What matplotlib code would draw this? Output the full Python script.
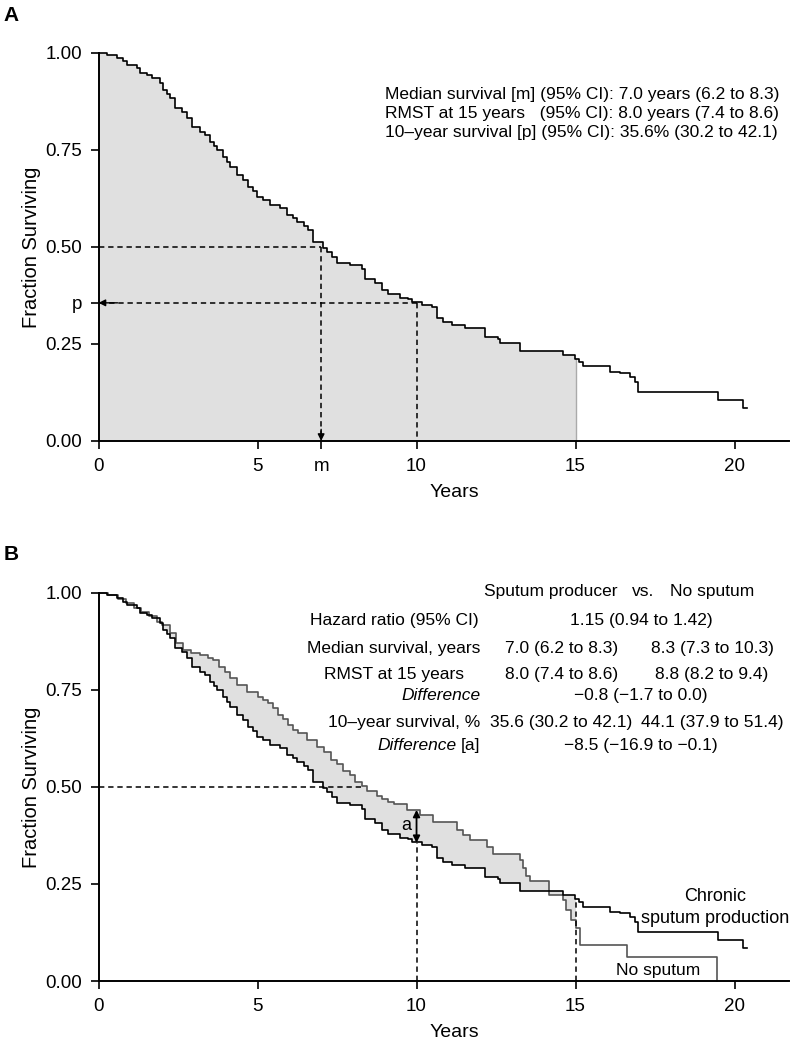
import numpy as np
import matplotlib.pyplot as plt

plt.rcParams['font.family'] = ['Liberation Sans', 'DejaVu Sans']

# Kaplan-Meier steps: time (years) and survival after each step
t_sputum = [0, 0.26, 0.57, 0.78, 0.89, 1.2, 1.3, 1.52, 1.67, 1.93, 2.04, 2.15, 2.25, 2.4, 2.62,
            2.77, 2.93, 3.19, 3.35, 3.5, 3.62, 3.72, 3.92, 4.03, 4.13, 4.35, 4.55, 4.71, 4.85,
            4.97, 5.18, 5.39, 5.71, 5.92, 6.1, 6.23, 6.45, 6.6, 6.75, 7.07, 7.2, 7.33, 7.49,
            7.91, 8.28, 8.38, 8.7, 8.9, 9.11, 9.48, 9.74, 9.85, 10.16, 10.48, 10.64, 10.84,
            11.1, 11.53, 12.15, 12.57, 12.63, 13.25, 14.62, 14.98, 15.1, 15.25, 16.08, 16.4,
            16.71, 16.87, 16.97, 19.49, 20.28, 20.4]
s_sputum = [1.0, 0.995, 0.986, 0.978, 0.969, 0.96, 0.948, 0.943, 0.935, 0.922, 0.905, 0.895,
            0.883, 0.857, 0.849, 0.832, 0.81, 0.797, 0.789, 0.771, 0.76, 0.75, 0.733, 0.72,
            0.707, 0.686, 0.673, 0.655, 0.645, 0.63, 0.621, 0.608, 0.6, 0.582, 0.574, 0.565,
            0.555, 0.544, 0.514, 0.497, 0.488, 0.475, 0.458, 0.454, 0.443, 0.417, 0.408, 0.389,
            0.379, 0.368, 0.365, 0.357, 0.351, 0.345, 0.316, 0.307, 0.299, 0.29, 0.269, 0.262,
            0.252, 0.232, 0.222, 0.211, 0.204, 0.192, 0.179, 0.174, 0.166, 0.153, 0.127, 0.106,
            0.085, 0.085]

t_nosp = [0, 0.3, 0.6, 0.85, 1.1, 1.35, 1.6, 1.85, 2.0, 2.25, 2.45, 2.67, 2.9, 3.19, 3.45,
          3.61, 3.8, 3.98, 4.15, 4.35, 4.66, 5.03, 5.18, 5.34, 5.5, 5.65, 5.8, 5.97, 6.1, 6.28,
          6.55, 6.86, 7.1, 7.3, 7.5, 7.7, 7.9, 8.07, 8.3, 8.45, 8.75, 8.9, 9.1, 9.3, 9.69, 10.1,
          10.53, 11.26, 11.45, 11.68, 12.21, 12.42, 13.25, 13.35, 13.45, 13.57, 14.15, 14.6,
          14.7, 14.85, 15.0, 15.14, 16.61, 19.44]
s_nosp = [1.0, 0.995, 0.985, 0.975, 0.962, 0.95, 0.94, 0.926, 0.918, 0.896, 0.87, 0.853,
          0.845, 0.84, 0.832, 0.827, 0.81, 0.797, 0.78, 0.763, 0.746, 0.733, 0.724, 0.716,
          0.703, 0.686, 0.674, 0.66, 0.648, 0.638, 0.621, 0.604, 0.59, 0.57, 0.558, 0.54, 0.53,
          0.514, 0.503, 0.49, 0.478, 0.468, 0.462, 0.455, 0.441, 0.428, 0.411, 0.389, 0.375,
          0.363, 0.346, 0.327, 0.312, 0.29, 0.27, 0.257, 0.222, 0.209, 0.183, 0.157, 0.136,
          0.093, 0.061, 0.0]

median_sp = 7.0
surv10_sp = 0.356
surv10_no = 0.441
median_no = 8.3
rmst_t = 15

stats_a = ["Median survival [m] (95% CI): 7.0 years (6.2 to 8.3)",
           "RMST at 15 years   (95% CI): 8.0 years (7.4 to 8.6)",
           "10\u2013year survival [p] (95% CI): 35.6% (30.2 to 42.1)"]

row_labels = ["Hazard ratio (95% CI)", "Median survival, years", "RMST at 15 years",
              "Difference", "10\u2013year survival, %", "Difference"]
col_sp = ["", "7.0 (6.2 to 8.3)", "8.0 (7.4 to 8.6)", "", "35.6 (30.2 to 42.1)", ""]
col_no = ["", "8.3 (7.3 to 10.3)", "8.8 (8.2 to 9.4)", "", "44.1 (37.9 to 51.4)", ""]
col_both = ["1.15 (0.94 to 1.42)", "", "", "\u22120.8 (\u22121.7 to 0.0)", "",
            "\u22128.5 (\u221216.9 to \u22120.1)"]
row_y = [0.930, 0.858, 0.789, 0.735, 0.665, 0.608]
label_x = [9.29, 9.29, 9.29, 12.0, 9.6, 12.0]

t_sputum = np.array(t_sputum)
s_sputum = np.array(s_sputum)
t_nosp = np.array(t_nosp)
s_nosp = np.array(s_nosp)


def km_at(t, s, x):
    i = np.searchsorted(t, x, side='right') - 1
    return s[np.clip(i, 0, len(s) - 1)]


fig = plt.figure(figsize=(7.92, 10.57), dpi=100)
axA = fig.add_axes([0.1244, 0.5828, 0.8713, 0.3671])
axB = fig.add_axes([0.1244, 0.0719, 0.8713, 0.3671])

dash = (0, (3.5, 2.5))
fill_c = '#e0e0e0'
fs = 12.5

for ax in (axA, axB):
    ax.set_xlim(0, 21.7)
    ax.set_ylim(0, 1)
    ax.spines['top'].set_visible(False)
    ax.spines['right'].set_visible(False)
    ax.spines['left'].set_linewidth(1.4)
    ax.spines['bottom'].set_linewidth(1.4)
    ax.tick_params(length=6, width=1.2, labelsize=13.5, pad=6)
    ax.set_xlabel("Years", fontsize=14)
    ax.xaxis.set_label_coords(0.515, -0.11)
    ax.set_ylabel("Fraction Surviving", fontsize=14.5, labelpad=3)

# ---- panel A
m = t_sputum < rmst_t
tt = np.append(t_sputum[m], rmst_t)
ss = np.append(s_sputum[m], s_sputum[m][-1])
axA.fill_between(tt, ss, step='post', color=fill_c, lw=0)
axA.plot([rmst_t, rmst_t], [0, km_at(t_sputum, s_sputum, rmst_t)], color='#aaaaaa', lw=1)
axA.step(t_sputum, s_sputum, where='post', color='k', lw=1.2, clip_on=False)

axA.plot([0, median_sp], [0.5, 0.5], color='k', lw=1.1, ls=dash)
axA.plot([median_sp, median_sp], [0.5, 0.01], color='k', lw=1.1, ls=dash)
axA.annotate('', xy=(median_sp, 0), xytext=(median_sp, 0.03),
             arrowprops=dict(arrowstyle='-|>', color='k', lw=1, mutation_scale=10,
                             shrinkA=0, shrinkB=0))
axA.plot([10, 0.05], [surv10_sp, surv10_sp], color='k', lw=1.1, ls=dash)
axA.annotate('', xy=(0, surv10_sp), xytext=(0.6, surv10_sp),
             arrowprops=dict(arrowstyle='-|>', color='k', lw=1, mutation_scale=10,
                             shrinkA=0, shrinkB=0))
axA.plot([10, 10], [surv10_sp, 0], color='k', lw=1.1, ls=dash)

axA.set_xticks([0, 5, median_sp, 10, 15, 20])
axA.set_xticklabels(['0', '5', 'm', '10', '15', '20'])
axA.set_yticks([0, 0.25, surv10_sp, 0.5, 0.75, 1.0])
axA.set_yticklabels(['0.00', '0.25', 'p', '0.50', '0.75', '1.00'])

for i, line in enumerate(stats_a):
    axA.text(9.01, 0.892 - 0.049 * i, line, fontsize=fs, va='center', ha='left')

fig.text(0.005, 0.985, "A", fontsize=15, fontweight='bold', va='center')

# ---- panel B
grid = np.union1d(t_sputum[t_sputum < rmst_t], t_nosp[t_nosp < rmst_t])
grid = np.append(grid, rmst_t)
axB.fill_between(grid, km_at(t_sputum, s_sputum, grid), km_at(t_nosp, s_nosp, grid),
                 step='post', color=fill_c, lw=0)
axB.step(t_nosp, s_nosp, where='post', color='#555555', lw=1.2, clip_on=False)
axB.step(t_sputum, s_sputum, where='post', color='k', lw=1.2, clip_on=False)

axB.plot([0, median_no], [0.5, 0.5], color='k', lw=1.1, ls=dash)
axB.plot([10, 10], [0, surv10_sp], color='k', lw=1.1, ls=dash)
axB.plot([rmst_t, rmst_t], [0, km_at(t_sputum, s_sputum, rmst_t)], color='k', lw=1.1, ls=dash)
axB.annotate('', xy=(10, surv10_no), xytext=(10, surv10_sp),
             arrowprops=dict(arrowstyle='<|-|>', color='k', lw=1.3, mutation_scale=10,
                             shrinkA=0, shrinkB=0))
axB.text(9.69, 0.40, "a", fontsize=13, ha='center', va='center')

axB.text(19.4, 0.219, "Chronic", fontsize=13, ha='center', va='center')
axB.text(19.4, 0.162, "sputum production", fontsize=13, ha='center', va='center')
axB.text(17.6, 0.028, "No sputum", fontsize=12.5, ha='center', va='center')

axB.set_xticks([0, 5, 10, 15, 20])
axB.set_xticklabels(['0', '5', '10', '15', '20'])
axB.set_yticks([0, 0.25, 0.5, 0.75, 1.0])
axB.set_yticklabels(['0.00', '0.25', '0.50', '0.75', '1.00'])

axB.text(14.23, 1.003, "Sputum producer", fontsize=fs, ha='center', va='center')
axB.text(17.12, 1.003, "vs.", fontsize=fs, ha='center', va='center')
axB.text(19.29, 1.003, "No sputum", fontsize=fs, ha='center', va='center')
for i, lab in enumerate(row_labels):
    y = row_y[i]
    if lab == "Difference":
        if i == 5:
            axB.text(label_x[i], y, "[a]", fontsize=fs, ha='right', va='center')
            axB.annotate(lab, xy=(label_x[i], y), xytext=(-17, 0), textcoords='offset points',
                         fontsize=fs, style='italic', ha='right', va='center')
        else:
            axB.text(label_x[i], y, lab, fontsize=fs, style='italic', ha='right', va='center')
    else:
        axB.text(label_x[i], y, lab, fontsize=fs, ha='center', va='center')
    if col_sp[i]:
        axB.text(14.55, y, col_sp[i], fontsize=fs, ha='center', va='center')
    if col_no[i]:
        axB.text(19.29, y, col_no[i], fontsize=fs, ha='center', va='center')
    if col_both[i]:
        axB.text(17.06, y, col_both[i], fontsize=fs, ha='center', va='center')

fig.text(0.005, 0.475, "B", fontsize=15, fontweight='bold', va='center')

plt.savefig("out.png", dpi=100)
